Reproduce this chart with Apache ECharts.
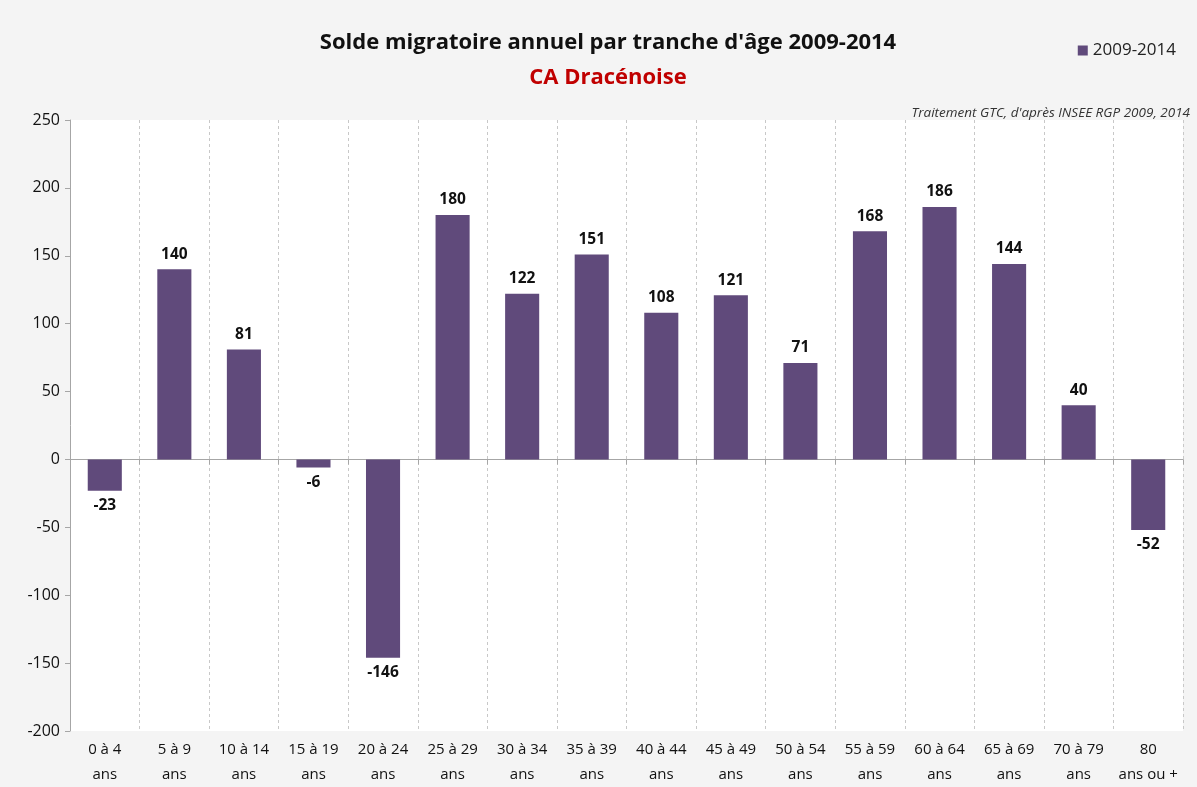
<!DOCTYPE html>
<html><head><meta charset="utf-8">
<script src="https://cdn.jsdelivr.net/npm/echarts@6/dist/echarts.min.js"></script>
<style>html,body{margin:0;padding:0;background:#f4f4f4}#c{width:1197px;height:787px}</style>
</head><body><div id="c"></div>
<script>
const categories = ['0 à 4\nans','5 à 9\nans','10 à 14\nans','15 à 19\nans','20 à 24\nans','25 à 29\nans','30 à 34\nans','35 à 39\nans','40 à 44\nans','45 à 49\nans','50 à 54\nans','55 à 59\nans','60 à 64\nans','65 à 69\nans','70 à 79\nans','80\nans ou +'];
const values = [-23,140,81,-6,-146,180,122,151,108,121,71,168,186,144,40,-52];
const seriesName = '2009-2014';
const yTicks = {min:-200, max:250, interval:50};
const font = '"Open Sans", "Noto Sans", sans-serif';

const chart = echarts.init(document.getElementById('c'));
chart.setOption({
  backgroundColor:'#f4f4f4',
  animation:false,
  textStyle:{fontFamily:font},
  title:[
    {text:"Solde migratoire annuel par tranche d'âge 2009-2014", left:603, top:27, textAlign:'center',
     textStyle:{fontSize:22, fontWeight:'bold', color:'#111', fontFamily:font}},
    {text:'CA Dracénoise', left:603, top:62, textAlign:'center',
     textStyle:{fontSize:22, fontWeight:'bold', color:'#c00000', fontFamily:font}},
    {text:"Traitement GTC, d'après INSEE RGP 2009, 2014", right:2, top:101,
     textStyle:{fontSize:13.5, fontStyle:'italic', fontWeight:'normal', color:'#333', fontFamily:font}}
  ],
  legend:{right:16, top:37, itemWidth:10, itemHeight:10, icon:'rect', itemGap:6,
    textStyle:{fontSize:17, color:'#222', fontFamily:font}, data:[seriesName]},
  grid:{left:70, right:14, top:120, bottom:51, show:true, backgroundColor:'#fff', borderWidth:0},
  xAxis:[
    {type:'category', data:categories, position:'bottom',
     axisLine:{onZero:true, lineStyle:{color:'#a6a6a6', width:1}},
     axisTick:{show:true, alignWithLabel:false, length:5, lineStyle:{color:'#a6a6a6'}},
     axisLabel:{show:false},
     splitLine:{show:true, lineStyle:{type:[3,3], color:'#c8c8c8', width:1}}},
    {type:'category', data:categories, position:'bottom',
     axisLine:{show:false, onZero:false}, axisTick:{show:false},
     axisLabel:{show:true, fontSize:15, color:'#111', lineHeight:25, margin:6, interval:0, fontFamily:font},
     splitLine:{show:false}}
  ],
  yAxis:{type:'value', min:yTicks.min, max:yTicks.max, interval:yTicks.interval,
    axisLine:{show:true, lineStyle:{color:'#a6a6a6'}},
    axisTick:{show:true, length:5, lineStyle:{color:'#a6a6a6'}},
    axisLabel:{fontSize:16, color:'#111', margin:10, fontFamily:font},
    splitLine:{show:false}},
  series:[{
    name:seriesName, type:'bar', xAxisIndex:0, barWidth:'49%',
    itemStyle:{color:'#604a7b'},
    data: values.map(v=>({value:v, label:{position: v<0?'bottom':'top'}})),
    label:{show:true, fontSize:15.5, fontWeight:'bold', color:'#111', distance:7, fontFamily:font}
  }]
});
</script></body></html>
